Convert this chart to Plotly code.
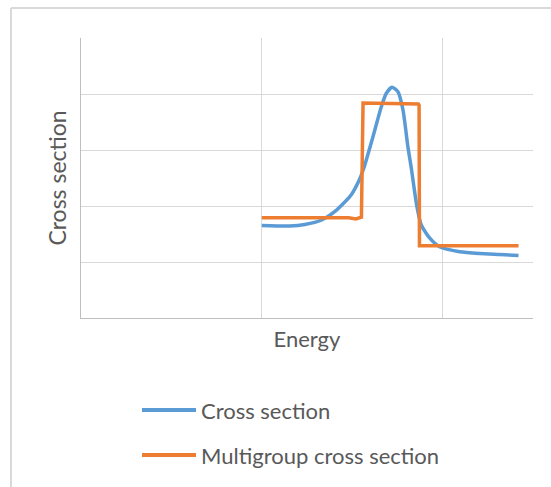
import plotly.graph_objects as go

# Continuous cross section (energy in log-decade units, arbitrary y units)
energy = [1.000, 1.155, 1.238, 1.331, 1.403, 1.459, 1.494, 1.539, 1.564, 1.615,
          1.661, 1.689, 1.720, 1.753, 1.781, 1.808, 1.827, 1.858, 1.882, 1.928,
          1.983, 2.094, 2.204, 2.315, 2.420]
cross_section = [1.652, 1.643, 1.670, 1.750, 1.898, 2.071, 2.196, 2.464, 2.673, 3.238,
                 3.773, 4.013, 4.120, 4.041, 3.714, 3.059, 2.673, 1.988, 1.661, 1.429,
                 1.273, 1.184, 1.152, 1.134, 1.116]

# Group-averaged (multigroup) cross section, drawn as steps
group_energy = [1.000, 1.481, 1.520, 1.551, 1.560, 1.866, 1.870, 1.872, 2.420]
group_xs = [1.79, 1.79, 1.77, 1.80, 3.84, 3.82, 3.80, 1.29, 1.29]

x_range = [0.0, 2.5]
y_range = [0.0, 5.0]

blue = "#5b9bd5"
orange = "#ed7d31"
text_grey = "#595959"
font_family = "Lato, 'Liberation Sans', sans-serif"

fig = go.Figure()
fig.add_trace(go.Scatter(
    x=energy, y=cross_section, mode="lines", name="Cross section",
    line=dict(color=blue, width=3.5, shape="spline", smoothing=0.6),
))
fig.add_trace(go.Scatter(
    x=group_energy, y=group_xs, mode="lines", name="Multigroup cross section",
    line=dict(color=orange, width=3.5),
))

fig.update_layout(
    width=551, height=487,
    margin=dict(l=81, r=18, t=38, b=169, autoexpand=False),
    paper_bgcolor="white", plot_bgcolor="white",
    showlegend=False,
    font=dict(family=font_family, color=text_grey, size=22),
)
fig.update_xaxes(
    range=x_range, dtick=1, tick0=0, showticklabels=False, ticks="",
    showgrid=True, gridcolor="#d9d9d9", gridwidth=1.3, zeroline=False,
    showline=True, linecolor="#bfbfbf", linewidth=1.3,
    title=dict(text="Energy", standoff=13, font=dict(size=22, color=text_grey)),
)
fig.update_yaxes(
    range=y_range, dtick=1, tick0=0, showticklabels=False, ticks="",
    showgrid=True, gridcolor="#d9d9d9", gridwidth=1.3, zeroline=False,
    showline=True, linecolor="#bfbfbf", linewidth=1.3,
    title=dict(text="Cross section", standoff=6, font=dict(size=23, color=text_grey)),
)

# Outer chart frame (left and top edges)
px_w, px_h = 452.0, 280.0
def to_paper_x(px):
    return (px - 81) / px_w
def to_paper_y(py):
    return (318 - py) / px_h

frame_color = "#d9d9d9"
fig.add_shape(type="line", xref="paper", yref="paper",
              x0=to_paper_x(11), x1=to_paper_x(11), y0=to_paper_y(8), y1=to_paper_y(500),
              line=dict(color=frame_color, width=2))
fig.add_shape(type="line", xref="paper", yref="paper",
              x0=to_paper_x(11), x1=to_paper_x(560), y0=to_paper_y(8), y1=to_paper_y(8),
              line=dict(color=frame_color, width=2))

# Legend below the plot
legend_items = [("Cross section", blue, 410), ("Multigroup cross section", orange, 455)]
for label, color, py in legend_items:
    fig.add_shape(type="line", xref="paper", yref="paper",
                  x0=to_paper_x(142), x1=to_paper_x(196), y0=to_paper_y(py), y1=to_paper_y(py),
                  line=dict(color=color, width=4))
    fig.add_annotation(xref="paper", yref="paper", x=to_paper_x(199), y=to_paper_y(py),
                       text=label, showarrow=False, xanchor="left", yanchor="middle",
                       font=dict(size=22, color=text_grey, family=font_family))

fig.write_html("out.html")
